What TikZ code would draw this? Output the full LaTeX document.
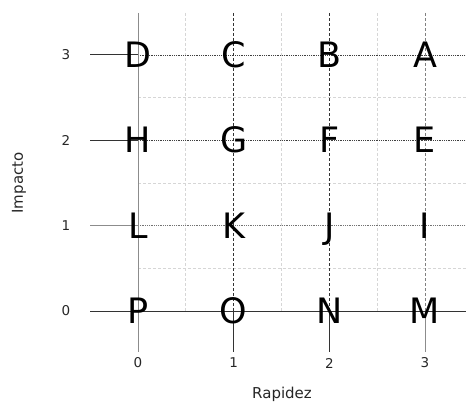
\documentclass[tikz,border=0pt]{standalone}
\usepackage{fontspec}
\setmainfont{DejaVu Sans}
\begin{document}
\begin{tikzpicture}[x=1pt,y=-1pt,
  letter/.style={inner sep=0pt,text height=25pt,text depth=0pt,font=\fontsize{35}{35}\selectfont},
  ticklbl/.style={inner sep=0pt,font=\fontsize{13.5}{13.5}\selectfont,text=black!85},
  axlbl/.style={inner sep=0pt,font=\fontsize{15}{15}\selectfont,text=black!85},
  major/.style={densely dashed,black!80,line width=0.8pt},
  majorh/.style={densely dotted,black!75,line width=0.8pt},
  minor/.style={densely dashed,black!16,line width=0.8pt},
  axisgray/.style={black!45,line width=1pt},
  axisdark/.style={black!80,line width=1pt}]
\useasboundingbox (0,0) rectangle (466,404);
\def\Xa{138}\def\Xb{233.7}\def\Xc{329.3}\def\Xd{425}
\def\Ya{311}\def\Yb{225.7}\def\Yc{140.3}\def\Yd{55}
% minor grid
\foreach \x in {185.8,281.5,377.2} \draw[minor] (\x,13) -- (\x,\Ya);
\foreach \y in {97.7,183,268.3} \draw[minor] (\Xa,\y) -- (466,\y);
% major horizontal
\draw[majorh] (\Xa,\Yd) -- (466,\Yd);
\draw[majorh] (\Xa,\Yc) -- (466,\Yc);
\draw[majorh,black!55] (\Xa,\Yb) -- (466,\Yb);
\draw[axisdark] (90,\Yd) -- (\Xa,\Yd);
\draw[axisdark] (90,\Yc) -- (\Xa,\Yc);
\draw[axisgray] (90,\Yb) -- (\Xa,\Yb);
% major vertical
\draw[major] (\Xb,13) -- (\Xb,\Ya);
\draw[major] (\Xc,13) -- (\Xc,\Ya);
\draw[major,black!50] (\Xd,13) -- (\Xd,\Ya);
\draw[axisdark] (\Xb,\Ya) -- (\Xb,352);
\draw[axisdark] (\Xc,\Ya) -- (\Xc,352);
\draw[axisgray] (\Xd,\Ya) -- (\Xd,352);
% axes
\draw[axisdark] (90,\Ya) -- (466,\Ya);
\draw[axisgray] (\Xa,13) -- (\Xa,352);
% letters
\node[letter] (D) at (\Xa,\Yd) {D};
\node[letter] (C) at (\Xb,\Yd) {C};
\node[letter] (B) at (\Xc,\Yd) {B};
\node[letter] (A) at (\Xd,\Yd) {A};
\node[letter] (H) at (\Xa,\Yc) {H};
\node[letter] (G) at (\Xb,\Yc) {G};
\node[letter] (F) at (\Xc,\Yc) {F};
\node[letter] (E) at (\Xd,\Yc) {E};
\node[letter] (L) at (\Xa,\Yb) {L};
\node[letter] (K) at (\Xb,\Yb) {K};
\node[letter] (J) at (\Xc,\Yb) {J};
\node[letter] (I) at (\Xd,\Yb) {I};
\node[letter] (P) at (\Xa,\Ya) {P};
\node[letter] (O) at (\Xb,\Ya) {O};
\node[letter] (N) at (\Xc,\Ya) {N};
\node[letter] (M) at (\Xd,\Ya) {M};
% tick labels
\node[ticklbl] (y3) at (66,\Yd) {3};
\node[ticklbl] (y2) at (66,\Yc) {2};
\node[ticklbl] (y1) at (66,\Yb) {1};
\node[ticklbl] (y0) at (66,\Ya) {0};
\node[ticklbl] (x0) at (\Xa,363) {0};
\node[ticklbl] (x1) at (\Xb,363) {1};
\node[ticklbl] (x2) at (\Xc,363) {2};
\node[ticklbl] (x3) at (\Xd,363) {3};
% axis labels
\node[axlbl] (xl) at (282,394) {Rapidez};
\node[axlbl,rotate=90] (yl) at (19,183) {Impacto};
\end{tikzpicture}
\end{document}
